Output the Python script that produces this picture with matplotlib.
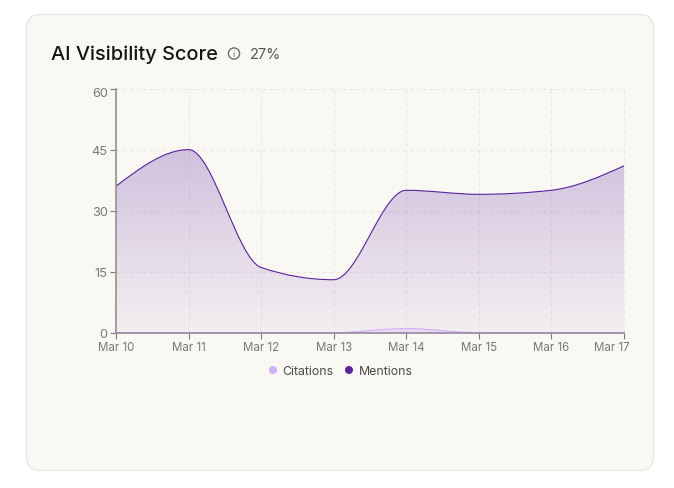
import numpy as np
import matplotlib
matplotlib.use('Agg')
import matplotlib.pyplot as plt
from matplotlib.patches import FancyBboxPatch, Circle, PathPatch
from matplotlib.path import Path
from matplotlib.colors import to_rgb
from matplotlib.transforms import ScaledTranslation

days = ['Mar 10', 'Mar 11', 'Mar 12', 'Mar 13', 'Mar 14', 'Mar 15', 'Mar 16', 'Mar 17']
mentions = [36, 45, 16, 13, 35, 34, 35, 41]
citations = [0, 0, 0, 0, 1, 0, 0, 0]
y_ticks = [0, 15, 30, 45, 60]

PURPLE = '#5b21a0'
LILAC = '#d3aefc'
CARD = '#f9f8f3'
TEXT = '#7b7973'
GRID = '#e8e6e2'

plt.rcParams['font.family'] = ['Inter', 'DejaVu Sans']


# monotone cubic through the values, same curve the chart lib uses
def monotone_path(x, y):
    x = np.asarray(x, float)
    y = np.asarray(y, float)
    h = np.diff(x)
    s = np.diff(y) / h
    m = np.zeros(len(x))
    for i in range(1, len(x) - 1):
        p = (s[i - 1] * h[i] + s[i] * h[i - 1]) / (h[i - 1] + h[i])
        m[i] = (np.sign(s[i - 1]) + np.sign(s[i])) * min(abs(s[i - 1]), abs(s[i]), 0.5 * abs(p))
    m[0] = (3 * s[0] - m[1]) / 2
    m[-1] = (3 * s[-1] - m[-2]) / 2
    verts = [(x[0], y[0])]
    codes = [Path.MOVETO]
    for i in range(len(x) - 1):
        d = h[i] / 3
        verts += [(x[i] + d, y[i] + m[i] * d), (x[i + 1] - d, y[i + 1] - m[i + 1] * d), (x[i + 1], y[i + 1])]
        codes += [Path.CURVE4] * 3
    return verts, codes


def area_path(x, verts, codes):
    return Path(verts + [(x[-1], 0), (x[0], 0), verts[0]],
                codes + [Path.LINETO, Path.LINETO, Path.CLOSEPOLY])


fig = plt.figure(figsize=(6.74, 4.89), dpi=100, facecolor='white')

# card and header, in pixel coords
bg = fig.add_axes([0, 0, 1, 1])
bg.set_xlim(0, 674)
bg.set_ylim(489, 0)
bg.axis('off')
bg.add_patch(FancyBboxPatch((26.5, 15.5), 627, 456, boxstyle='round,pad=0,rounding_size=14',
                            fc=CARD, ec='#e5e4dc', lw=0.8))
bg.text(51, 55, 'AI Visibility Score', fontsize=14.4, fontweight='medium', color='#151515', va='center')
bg.add_patch(Circle((234, 54.5), 5.6, fc='none', ec='#6f6e69', lw=1))
bg.text(234, 54.8, 'i', fontsize=6.5, color='#6f6e69', ha='center', va='center')
bg.text(250, 55, '27%', fontsize=10.4, color='#55534f', va='center')

# legend
bg.add_patch(Circle((273, 371), 4, fc=LILAC, ec='none'))
bg.text(282.5, 372, 'Citations', fontsize=8.9, color='#4b4a47', va='center')
bg.add_patch(Circle((349, 371), 4, fc=PURPLE, ec='none'))
bg.text(358.5, 372, 'Mentions', fontsize=8.9, color='#4b4a47', va='center')

ax = fig.add_axes([116 / 674, (489 - 333.6) / 489, 508 / 674, 244 / 489])
ax.patch.set_alpha(0)
x = np.arange(len(days))
ax.set_xlim(0, 7)
ax.set_ylim(0, 60)

# vertical gradient under the mentions curve
verts, codes = monotone_path(x, mentions)
grad = np.zeros((256, 2, 4))
grad[..., :3] = to_rgb(PURPLE)
grad[..., 3] = np.linspace(0.26, 0.04, 256)[:, None]
img = ax.imshow(grad, extent=(0, 7, 0, 45), origin='upper', aspect='auto', zorder=1, interpolation='bilinear')
ax.set_xlim(0, 7)
ax.set_ylim(0, 60)
img.set_clip_path(PathPatch(area_path(x, verts, codes), transform=ax.transData))
ax.add_patch(PathPatch(Path(verts, codes), fc='none', ec=PURPLE, lw=0.8, zorder=4, capstyle='round'))

# citations barely lift off the baseline
cverts, ccodes = monotone_path(x, citations)
ax.add_patch(PathPatch(area_path(x, cverts, ccodes), fc=LILAC, ec='none', alpha=0.3, zorder=2))
ax.add_patch(PathPatch(Path(cverts, ccodes), fc='none', ec=LILAC, lw=0.8, zorder=3, clip_on=False))

ax.grid(True, ls=(0, (3, 3)), lw=0.8, color=GRID, zorder=0)
ax.set_axisbelow(True)
ax.spines['top'].set_visible(False)
ax.spines['right'].set_visible(False)
ax.spines['left'].set(color='#9b9994', lw=1.3)
ax.spines['bottom'].set(color='#9b8fa6', lw=1.3)
ax.spines['left'].set_zorder(5)
ax.spines['bottom'].set_zorder(5)
# dashed top and right edges of the grid
ax.plot([0, 7], [60, 60], ls=(0, (3, 3)), lw=0.8, color=GRID, clip_on=False, zorder=0)
ax.plot([7, 7], [0, 60], ls=(0, (3, 3)), lw=0.8, color=GRID, clip_on=False, zorder=0)

ax.set_xticks(x, days)
ax.set_yticks(y_ticks)
ax.tick_params(axis='x', length=4.5, width=0.8, color='#7d7b77', labelsize=8.3, labelcolor=TEXT, pad=1.5)
ax.tick_params(axis='y', length=4.5, width=0.8, color='#7d7b77', labelsize=9.2, labelcolor=TEXT, pad=1.5)

# last x label is pushed inward, top y label sits just under its tick
last = ax.get_xticklabels()[-1]
last.set_ha('right')
last.set_transform(last.get_transform() + ScaledTranslation(5 / 100, 0, fig.dpi_scale_trans))
top = ax.get_yticklabels()[-1]
top.set_transform(top.get_transform() + ScaledTranslation(0, -3 / 100, fig.dpi_scale_trans))

fig.savefig('out.png', dpi=100)
